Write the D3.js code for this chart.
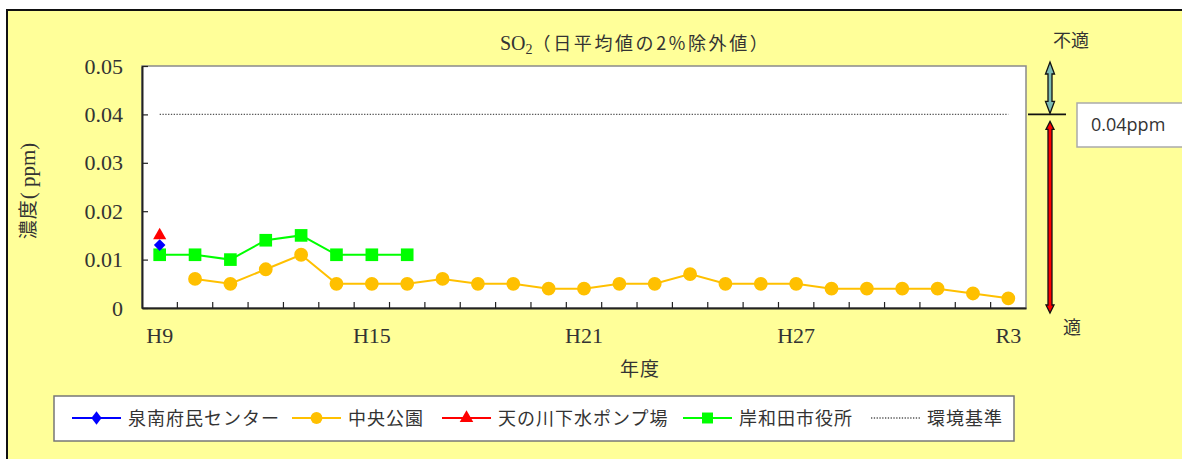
<!DOCTYPE html>
<html lang="ja">
<head>
<meta charset="UTF-8">
<title>SO2</title>
<style>
  body { margin: 0; background: #fff; }
  svg text { fill: #333; }
</style>
</head>
<body>
<script src="https://d3js.org/d3.v7.min.js"></script>
<script>
// 年度
const years = ["H9","H10","H11","H12","H13","H14","H15","H16","H17","H18","H19","H20",
  "H21","H22","H23","H24","H25","H26","H27","H28","H29","H30","R1","R2","R3"];
const yearLabels = ["H9","H15","H21","H27","R3"];
const yTicks = [0, 0.01, 0.02, 0.03, 0.04, 0.05];
const standard = 0.04;

// 測定局ごとの値 (null = 測定なし)
const sennan = [0.013];
const chuo = [null,0.006,0.005,0.008,0.011,0.005,0.005,0.005,0.006,0.005,0.005,0.004,
  0.004,0.005,0.005,0.007,0.005,0.005,0.005,0.004,0.004,0.004,0.004,0.003,0.002];
const amanogawa = [0.015];
const kishiwada = [0.011,0.011,0.010,0.014,0.015,0.011,0.011,0.011];

const W = 1182, H = 459;
const plot = { left: 142, top: 66, right: 1026, bottom: 308 };
const serif = "'Liberation Serif', 'Noto Sans CJK JP', serif";
const jp = "'Noto Sans CJK JP', sans-serif";

const svg = d3.select("body").append("svg")
  .attr("width", W).attr("height", H);

// yellow panel
svg.append("rect").attr("x", 0).attr("y", 0).attr("width", W).attr("height", H).attr("fill", "#fff");
svg.append("rect").attr("x", 7).attr("y", 10).attr("width", W + 10).attr("height", H + 10)
  .attr("fill", "#ffff99").attr("stroke", "#111").attr("stroke-width", 2);

const x = d3.scaleBand().domain(years).range([plot.left, plot.right]);
const cx = d => x(d) + x.bandwidth() / 2;
const y = d3.scaleLinear().domain([0, 0.05]).range([plot.bottom, plot.top]);

// plot area
svg.append("rect")
  .attr("x", plot.left).attr("y", plot.top)
  .attr("width", plot.right - plot.left).attr("height", plot.bottom - plot.top)
  .attr("fill", "#fff").attr("stroke", "#8a8a8a").attr("stroke-width", 1.5);

// y axis
const yAxis = svg.append("g")
  .attr("transform", `translate(${plot.left},0)`)
  .call(d3.axisLeft(y).tickValues(yTicks).tickSizeInner(-6).tickSizeOuter(0).tickPadding(19)
    .tickFormat(d => d === 0 ? "0" : d3.format(".2f")(d)));
yAxis.select(".domain").attr("stroke", "#222").attr("stroke-width", 2);
yAxis.selectAll(".tick line").attr("stroke", "#222").attr("stroke-width", 1.2);
yAxis.selectAll("text").attr("font-family", serif).attr("font-size", 22).attr("fill", "#333");

// x axis (labels only, ticks between categories)
const xAxis = svg.append("g")
  .attr("transform", `translate(0,${plot.bottom})`)
  .call(d3.axisBottom(x).tickValues(yearLabels).tickSize(0).tickPadding(19));
xAxis.select(".domain").attr("stroke", "#222").attr("stroke-width", 2);
xAxis.selectAll("text").attr("font-family", serif).attr("font-size", 22).attr("fill", "#333");
xAxis.selectAll(".bnd").data(years.slice(1)).enter().append("line")
  .attr("x1", d => x(d)).attr("x2", d => x(d))
  .attr("y1", 0).attr("y2", -6).attr("stroke", "#222").attr("stroke-width", 1.2);

// 環境基準
svg.append("line")
  .attr("x1", cx(years[0])).attr("x2", cx(years[years.length - 1]))
  .attr("y1", y(standard)).attr("y2", y(standard))
  .attr("stroke", "#555").attr("stroke-width", 1.3).attr("stroke-dasharray", "1.3,1.5");

// series
const series = [
  { name: "岸和田市役所", values: kishiwada, color: "#00ff00", marker: "square" },
  { name: "中央公園", values: chuo, color: "#ffc000", marker: "circle" },
  { name: "泉南府民センター", values: sennan, color: "#0000ff", marker: "diamond" },
  { name: "天の川下水ポンプ場", values: amanogawa, color: "#ff0000", marker: "triangle" }
];
const symbolOf = {
  circle: d3.symbol().type(d3.symbolCircle).size(150),
  square: d3.symbol().type(d3.symbolSquare).size(160),
  triangle: d3.symbol().type(d3.symbolTriangle).size(75),
  diamond: d3.symbol().type(d3.symbolDiamond).size(80)
};
const line = d3.line().defined(d => d.v != null).x(d => cx(d.year)).y(d => y(d.v));

series.forEach(s => {
  const pts = s.values.map((v, i) => ({ year: years[i], v: v }));
  svg.append("path").datum(pts)
    .attr("d", line).attr("fill", "none").attr("stroke", s.color).attr("stroke-width", 2);
  svg.selectAll(null).data(pts.filter(d => d.v != null)).enter().append("path")
    .attr("d", symbolOf[s.marker])
    .attr("transform", d => `translate(${cx(d.year)},${y(d.v)})` +
      (s.marker === "diamond" ? " scale(1.2,0.7)" : ""))
    .attr("fill", s.color);
});

// title
const title = svg.append("text").attr("x", 500).attr("y", 50)
  .attr("font-size", 20).attr("fill", "#333");
title.append("tspan").attr("font-family", serif).text("SO");
title.append("tspan").attr("font-family", serif).attr("font-size", 14).attr("dy", 4).text("2");
title.append("tspan").attr("font-family", jp).attr("dy", -4).attr("font-size", 18)
  .attr("letter-spacing", 2.6).text("（日平均値の2%除外値）");

// axis titles
const yl = svg.append("text")
  .attr("transform", "translate(35,191) rotate(-90)")
  .attr("text-anchor", "middle").attr("font-size", 19);
yl.append("tspan").attr("font-family", jp).attr("letter-spacing", 1).text("濃度");
yl.append("tspan").attr("font-family", serif).attr("font-size", 21).text("( ppm)");

svg.append("text").attr("x", 640).attr("y", 376).attr("text-anchor", "middle")
  .attr("font-family", jp).attr("font-size", 19).attr("letter-spacing", 1).text("年度");

// legend
svg.append("rect").attr("x", 54).attr("y", 396).attr("width", 960).attr("height", 45)
  .attr("fill", "#fff").attr("stroke", "#777").attr("stroke-width", 1.5);
const legendItems = [
  { name: "泉南府民センター", color: "#0000ff", marker: "diamond", x0: 72 },
  { name: "中央公園", color: "#ffc000", marker: "circle", x0: 292 },
  { name: "天の川下水ポンプ場", color: "#ff0000", marker: "triangle", x0: 442 },
  { name: "岸和田市役所", color: "#00ff00", marker: "square", x0: 683 },
  { name: "環境基準", color: "#555", marker: null, x0: 871 }
];
const legendSym = {
  circle: d3.symbol().type(d3.symbolCircle).size(110),
  square: d3.symbol().type(d3.symbolSquare).size(120),
  triangle: d3.symbol().type(d3.symbolTriangle).size(80),
  diamond: d3.symbol().type(d3.symbolDiamond).size(75)
};
const lg = svg.selectAll(".lg").data(legendItems).enter().append("g")
  .attr("transform", d => `translate(${d.x0},418)`);
lg.append("line").attr("x1", 0).attr("x2", 49).attr("y1", 0).attr("y2", 0)
  .attr("stroke", d => d.color)
  .attr("stroke-width", d => d.marker ? 2 : 1.3)
  .attr("stroke-dasharray", d => d.marker ? null : "1.3,1.5");
lg.filter(d => d.marker).append("path")
  .attr("d", d => legendSym[d.marker]())
  .attr("transform", d => "translate(24.5,0)" + (d.marker === "diamond" ? " scale(1.1,0.85)" : ""))
  .attr("fill", d => d.color);
lg.append("text").attr("x", 56).attr("y", 7)
  .attr("font-family", jp).attr("font-size", 18).attr("letter-spacing", 1)
  .attr("fill", "#333").text(d => d.name);

// 評価の矢印
function dblArrow(xc, y1, y2, sw, hw, hh) {
  return d3.line()([
    [xc, y1], [xc + hw / 2, y1 + hh], [xc + sw / 2, y1 + hh], [xc + sw / 2, y2 - hh],
    [xc + hw / 2, y2 - hh], [xc, y2], [xc - hw / 2, y2 - hh], [xc - sw / 2, y2 - hh],
    [xc - sw / 2, y1 + hh], [xc - hw / 2, y1 + hh]
  ]) + "Z";
}
const ax = 1050;
svg.append("path").attr("d", dblArrow(ax, 62, y(standard) - 1, 4, 9, 12))
  .attr("fill", "#7cbcb4").attr("stroke", "#111").attr("stroke-width", 1.3);
svg.append("line").attr("x1", 1028).attr("x2", 1066)
  .attr("y1", y(standard)).attr("y2", y(standard))
  .attr("stroke", "#111").attr("stroke-width", 1.6);
svg.append("path").attr("d", dblArrow(ax, y(standard) + 7, 313, 4, 8, 8))
  .attr("fill", "#ff0000").attr("stroke", "#111").attr("stroke-width", 1.3);
svg.append("text").attr("x", 1071).attr("y", 47).attr("text-anchor", "middle")
  .attr("font-family", jp).attr("font-size", 18).text("不適");
svg.append("text").attr("x", 1072).attr("y", 334).attr("text-anchor", "middle")
  .attr("font-family", jp).attr("font-size", 18).text("適");

svg.append("rect").attr("x", 1077).attr("y", 103).attr("width", 120).attr("height", 44)
  .attr("fill", "#fff").attr("stroke", "#aaa").attr("stroke-width", 1.5);
svg.append("text").attr("x", 1091).attr("y", 131)
  .attr("font-family", "'Open Sans', 'Noto Sans', sans-serif").attr("font-size", 18)
  .attr("fill", "#111").text(standard.toFixed(2) + "ppm");
</script>
</body>
</html>
